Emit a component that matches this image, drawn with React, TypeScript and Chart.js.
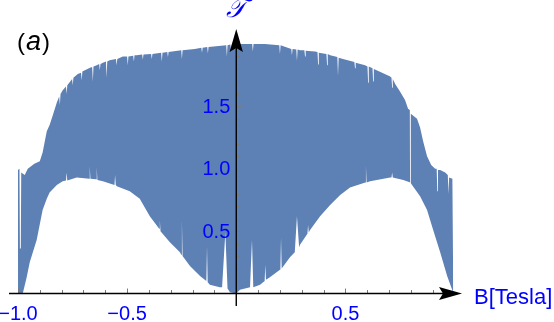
import React, { useEffect, useRef } from 'react';
import { Chart, registerables } from 'chart.js';

Chart.register(...registerables);

// ---- data ----
// upper envelope of the rapidly oscillating transmission
const upperX = [
  -1.000, -0.993, -0.991, -0.987, -0.985, -0.969, -0.955, -0.925, -0.900, -0.887,
  -0.868, -0.855, -0.840, -0.822, -0.811, -0.808, -0.805, -0.795, -0.780, -0.777,
  -0.774, -0.752, -0.749, -0.746, -0.726, -0.711, -0.708, -0.705, -0.670, -0.660,
  -0.657, -0.654, -0.639, -0.628, -0.625, -0.622, -0.611, -0.597, -0.594, -0.591,
  -0.580, -0.551, -0.548, -0.545, -0.520, -0.500, -0.497, -0.494, -0.472, -0.469,
  -0.466, -0.456, -0.431, -0.428, -0.425, -0.390, -0.387, -0.384, -0.344, -0.341,
  -0.338, -0.316, -0.313, -0.310, -0.252, -0.249, -0.246, -0.190, -0.160, -0.157,
  -0.154, -0.133, -0.130, -0.127, -0.046, -0.043, -0.040, -0.027, -0.024, -0.021,
  0.000, 0.073, 0.076, 0.079, 0.131, 0.197, 0.200, 0.203, 0.252, 0.255,
  0.258, 0.275, 0.278, 0.281, 0.292, 0.312, 0.315, 0.318, 0.361, 0.372,
  0.375, 0.378, 0.413, 0.416, 0.419, 0.430, 0.463, 0.466, 0.469, 0.489,
  0.541, 0.544, 0.547, 0.590, 0.601, 0.604, 0.607, 0.624, 0.627, 0.630,
  0.668, 0.705, 0.711, 0.714, 0.717, 0.728, 0.750, 0.773, 0.787, 0.795,
  0.796, 0.799, 0.800, 0.828, 0.842, 0.856, 0.874, 0.893, 0.911, 0.918,
  0.921, 0.924, 0.934, 0.957, 0.969, 0.972, 0.975, 0.990, 0.994,
];
const upperY = [
  0.99, 1.00, 0.36, 0.36, 0.97, 0.95, 1.00, 1.04, 1.06, 1.13,
  1.30, 1.35, 1.43, 1.53, 1.58, 1.51, 1.60, 1.63, 1.66, 1.60,
  1.67, 1.72, 1.67, 1.73, 1.76, 1.77, 1.71, 1.78, 1.81, 1.815,
  1.70, 1.82, 1.83, 1.84, 1.79, 1.84, 1.85, 1.86, 1.73, 1.86,
  1.87, 1.88, 1.83, 1.88, 1.90, 1.90, 1.83, 1.90, 1.905, 1.86,
  1.91, 1.91, 1.915, 1.875, 1.915, 1.92, 1.88, 1.92, 1.93, 1.86,
  1.93, 1.935, 1.895, 1.935, 1.95, 1.88, 1.95, 1.96, 1.97, 1.93,
  1.97, 1.975, 1.925, 1.975, 1.99, 1.90, 1.99, 1.995, 1.945, 1.995,
  2.00, 2.00, 1.94, 2.00, 2.00, 1.99, 1.92, 1.99, 1.96, 1.91,
  1.96, 1.955, 1.865, 1.955, 1.95, 1.95, 1.90, 1.945, 1.94, 1.935,
  1.835, 1.93, 1.92, 1.83, 1.92, 1.91, 1.895, 1.745, 1.89, 1.88,
  1.855, 1.805, 1.85, 1.83, 1.82, 1.69, 1.82, 1.805, 1.70, 1.80,
  1.77, 1.74, 1.73, 1.65, 1.72, 1.68, 1.62, 1.55, 1.48, 1.47,
  0.88, 0.88, 1.44, 1.40, 1.33, 1.22, 1.10, 1.03, 1.00, 1.00,
  0.82, 0.99, 0.99, 0.97, 0.95, 0.80, 0.93, 0.92, 0.00,
];

// lower envelope (the white dome-shaped gaps)
const lowerX = [
  -1.000, -0.978, -0.960, -0.946, -0.914, -0.887, -0.868, -0.855, -0.822, -0.795,
  -0.780, -0.777, -0.774, -0.731, -0.674, -0.671, -0.668, -0.642, -0.639, -0.636,
  -0.611, -0.558, -0.555, -0.552, -0.547, -0.488, -0.442, -0.396, -0.353, -0.350,
  -0.347, -0.304, -0.258, -0.252, -0.249, -0.246, -0.212, -0.166, -0.137, -0.134,
  -0.131, -0.121, -0.075, -0.065, -0.050, -0.040, -0.029, 0.000, 0.017, 0.063,
  0.066, 0.072, 0.078, 0.109, 0.130, 0.133, 0.136, 0.154, 0.200, 0.202,
  0.205, 0.208, 0.246, 0.268, 0.278, 0.288, 0.292, 0.326, 0.329, 0.332,
  0.338, 0.384, 0.430, 0.476, 0.521, 0.591, 0.594, 0.597, 0.613, 0.705,
  0.711, 0.714, 0.717, 0.765, 0.797, 0.842, 0.874, 0.902, 0.934, 0.966,
  0.989, 0.994,
];
const lowerY = [
  0.00, 0.00, 0.13, 0.25, 0.43, 0.67, 0.76, 0.81, 0.87, 0.90,
  0.905, 0.97, 0.905, 0.93, 0.92, 1.02, 0.92, 0.915, 1.01, 0.91,
  0.90, 0.87, 0.95, 0.87, 0.86, 0.82, 0.76, 0.62, 0.52, 0.59,
  0.50, 0.41, 0.33, 0.31, 0.59, 0.30, 0.22, 0.14, 0.10, 0.38,
  0.09, 0.07, 0.05, 0.05, 0.49, 0.04, 0.01, 0.00, 0.03, 0.05,
  0.05, 0.43, 0.05, 0.07, 0.10, 0.23, 0.11, 0.13, 0.19, 0.19,
  0.45, 0.20, 0.29, 0.33, 0.62, 0.37, 0.39, 0.48, 0.55, 0.49,
  0.51, 0.62, 0.71, 0.79, 0.85, 0.89, 1.02, 0.89, 0.90, 0.93,
  0.93, 0.97, 0.93, 0.91, 0.89, 0.78, 0.67, 0.51, 0.33, 0.14,
  0.03, 0.00,
];

const xTicks = [-1.0, -0.9, -0.8, -0.7, -0.6, -0.5, -0.4, -0.3, -0.2, -0.1, 0.1, 0.2, 0.3, 0.4, 0.5, 0.6, 0.7, 0.8, 0.9];
const xLabelled = [-1.0, -0.5, 0.5];
const yTicks = [0.1, 0.2, 0.3, 0.4, 0.5, 0.6, 0.7, 0.8, 0.9, 1.0, 1.1, 1.2, 1.3, 1.4, 1.5, 1.6, 1.7, 1.8, 1.9];
const yLabelled = [0.5, 1.0, 1.5];
const xTitle = 'B[Tesla]';
const yTitle = '\u{1D4AF}';
const panelOpen = '(';
const panelLetter = 'a';
const panelClose = ')';

const FILL = '#5e81b5';
const BLUE = '#0000ff';
const TICK_FONT = 'Liberation Sans';

const isIn = (list: number[], v: number) => list.some((l) => Math.abs(l - v) < 1e-6);
const fmt = (v: number) => (v < 0 ? '\u2212' : '') + Math.abs(v).toFixed(1);

const arrowAxesPlugin = {
  id: 'arrowAxes',
  afterDraw(chart: any) {
    const { ctx, chartArea } = chart;
    const xs = chart.scales.x;
    const ys = chart.scales.y;
    const x0 = xs.getPixelForValue(0);
    const y0 = ys.getPixelForValue(0);
    ctx.save();
    // tick marks (inside)
    ctx.strokeStyle = '#7a7a7a';
    ctx.lineWidth = 1;
    xs.ticks.forEach((t: any) => {
      const px = Math.round(xs.getPixelForValue(t.value)) + 0.5;
      const len = isIn(xLabelled, t.value) ? 5 : 3.5;
      ctx.beginPath();
      ctx.moveTo(px, y0);
      ctx.lineTo(px, y0 - len);
      ctx.stroke();
    });
    ys.ticks.forEach((t: any) => {
      const py = Math.round(ys.getPixelForValue(t.value)) + 0.5;
      const len = isIn(yLabelled, t.value) ? 5 : 3.5;
      ctx.beginPath();
      ctx.moveTo(x0, py);
      ctx.lineTo(x0 + len, py);
      ctx.stroke();
    });
    // y tick labels (left of the centred axis)
    ctx.fillStyle = BLUE;
    ctx.font = `20px "${TICK_FONT}"`;
    ctx.textAlign = 'right';
    ctx.textBaseline = 'middle';
    ys.ticks.forEach((t: any) => {
      if (!isIn(yLabelled, t.value)) return;
      ctx.fillText(fmt(t.value), x0 - 6, ys.getPixelForValue(t.value) + 1);
    });
    // axis lines
    ctx.strokeStyle = '#000';
    ctx.lineWidth = 1.4;
    ctx.beginPath();
    ctx.moveTo(chartArea.left, y0);
    ctx.lineTo(chartArea.right - 12, y0);
    ctx.moveTo(x0, chartArea.bottom);
    ctx.lineTo(x0, chartArea.top + 12);
    ctx.stroke();
    // arrow heads
    ctx.fillStyle = '#000';
    const R = chartArea.right;
    ctx.beginPath();
    ctx.moveTo(R, y0);
    ctx.lineTo(R - 23, y0 - 6.5);
    ctx.lineTo(R - 19, y0);
    ctx.lineTo(R - 23, y0 + 6.5);
    ctx.closePath();
    ctx.fill();
    const T = chartArea.top;
    ctx.beginPath();
    ctx.moveTo(x0, T);
    ctx.lineTo(x0 - 6.7, T + 23);
    ctx.lineTo(x0, T + 19);
    ctx.lineTo(x0 + 6.7, T + 23);
    ctx.closePath();
    ctx.fill();
    // axis titles
    ctx.fillStyle = BLUE;
    ctx.font = `22px "${TICK_FONT}"`;
    ctx.textAlign = 'left';
    ctx.textBaseline = 'middle';
    ctx.fillText(xTitle, R + 12, y0 + 4);
    ctx.font = `italic 26px "DejaVu Serif", "DejaVu Sans", serif`;
    ctx.textAlign = 'center';
    ctx.textBaseline = 'alphabetic';
    ctx.fillText(yTitle, x0, T - 12);
    // panel label
    ctx.fillStyle = '#000';
    ctx.textBaseline = 'alphabetic';
    ctx.textAlign = 'left';
    let px = 17;
    const py = 50;
    ctx.font = `24px "${TICK_FONT}"`;
    ctx.fillText(panelOpen, px, py);
    px += ctx.measureText(panelOpen).width + 1;
    ctx.font = `italic 27px "${TICK_FONT}"`;
    ctx.fillText(panelLetter, px, py);
    px += ctx.measureText(panelLetter).width + 1;
    ctx.font = `24px "${TICK_FONT}"`;
    ctx.fillText(panelClose, px, py);
    ctx.restore();
  },
};

export default function App() {
  const ref = useRef<HTMLCanvasElement | null>(null);
  useEffect(() => {
    if (!ref.current) return;
    const chart = new Chart(ref.current, {
      type: 'line',
      data: {
        datasets: [
          {
            label: 'upper',
            data: upperX.map((x, i) => ({ x, y: upperY[i] })),
            backgroundColor: FILL,
            borderColor: FILL,
            borderWidth: 0,
            pointRadius: 0,
            tension: 0,
            fill: 'origin',
            order: 2,
          },
          {
            label: 'lower',
            data: lowerX.map((x, i) => ({ x, y: lowerY[i] })),
            backgroundColor: '#ffffff',
            borderColor: '#ffffff',
            borderWidth: 0,
            pointRadius: 0,
            tension: 0,
            fill: 'origin',
            order: 1,
          },
        ],
      },
      options: {
        animation: false,
        responsive: false,
        devicePixelRatio: 1,
        layout: { padding: { left: 9, right: 92, top: 29, bottom: 16 }, autoPadding: false },
        plugins: { legend: { display: false }, tooltip: { enabled: false } },
        events: [],
        scales: {
          x: {
            type: 'linear',
            min: -1.041,
            max: 1.034,
            position: { y: 0 },
            z: 1,
            grid: { display: false, drawTicks: false },
            border: { display: false },
            afterBuildTicks: (s: any) => {
              s.ticks = xTicks.map((v) => ({ value: v }));
            },
            afterFit: (s: any) => {
              s.height = 0;
              s.paddingLeft = 0;
              s.paddingRight = 0;
              s.paddingTop = 0;
              s.paddingBottom = 0;
            },
            ticks: {
              autoSkip: false,
              maxRotation: 0,
              padding: 9,
              color: BLUE,
              font: { family: TICK_FONT, size: 20 },
              callback: (v: any) => (isIn(xLabelled, Number(v)) ? fmt(Number(v)) : ''),
            },
          },
          y: {
            type: 'linear',
            min: -0.1,
            max: 2.12,
            position: { x: 0 },
            z: 1,
            grid: { display: false, drawTicks: false },
            border: { display: false },
            afterBuildTicks: (s: any) => {
              s.ticks = yTicks.map((v) => ({ value: v }));
            },
            afterFit: (s: any) => {
              s.width = 0;
              s.paddingLeft = 0;
              s.paddingRight = 0;
              s.paddingTop = 0;
              s.paddingBottom = 0;
            },
            ticks: { display: false },
          },
        },
      },
      plugins: [arrowAxesPlugin],
    } as any);
    return () => chart.destroy();
  }, []);
  return (
    <div style={{ position: 'fixed', left: 0, top: 0, width: 554, height: 322, background: '#fff' }}>
      <canvas ref={ref} width={554} height={322} style={{ display: 'block', width: 554, height: 322 }} />
    </div>
  );
}
